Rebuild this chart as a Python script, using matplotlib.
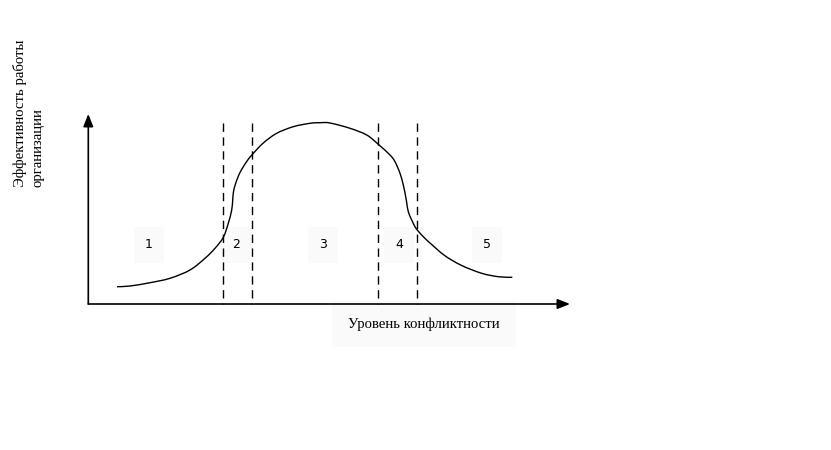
import matplotlib
matplotlib.use("Agg")
import matplotlib.pyplot as plt
import numpy as np
from matplotlib.path import Path
from matplotlib.patches import PathPatch

# curve points (pixel coordinates, y grows downward)
CURVE_X = [117, 130, 150, 170, 190, 205, 215, 223.3, 228.3, 231.7, 232.7, 233.5, 235.7,
           240, 246.7, 252.3, 263.3, 276.7, 293.3, 310, 320, 330, 350, 366.7, 378.3,
           390, 395, 400, 403.3, 405.7, 406.8, 408.3, 411.7, 416, 423.3, 431.7, 445,
           461.7, 481.7, 498.3, 512.3]
CURVE_Y = [286.7, 286, 282.7, 278.3, 270, 258.3, 248.3, 237.3, 223.3, 210, 200, 191.7,
           183.3, 172.5, 161.5, 154.5, 143, 133.3, 126.7, 123.3, 122.7, 123, 128.3, 135,
           144.3, 155, 161.7, 173.3, 185, 196.7, 203.3, 211.7, 220, 228.3, 236.7, 244.5,
           255.8, 265.5, 273.3, 276.7, 277.3]

ZONE_BOUNDS = [223.3, 252.3, 378.3, 416.7]
ZONE_LABELS = ["1", "2", "3", "4", "5"]
ZONE_LABEL_X = [149, 236, 323, 399, 487]

X_LABEL = "Уровень конфликтности"
Y_LABEL = ["Эффективность работы", "организации"]

ORIGIN = (88.3, 304)
X_END = 570
Y_END = 114


def smooth_path(xs, ys):
    # Catmull-Rom through the read points, drawn as cubic Bezier segments
    p = np.column_stack([xs, ys])
    verts = [p[0]]
    codes = [Path.MOVETO]
    n = len(p)
    for i in range(n - 1):
        p0 = p[max(i - 1, 0)]
        p1, p2 = p[i], p[i + 1]
        p3 = p[min(i + 2, n - 1)]
        verts += [p1 + (p2 - p0) / 6, p2 - (p3 - p1) / 6, p2]
        codes += [Path.CURVE4] * 3
    return Path(verts, codes)


fig = plt.figure(figsize=(8.31, 4.5), dpi=100)
ax = fig.add_axes([0, 0, 1, 1])
ax.set_xlim(0, 831)
ax.set_ylim(450, 0)
ax.axis("off")

# faint backgrounds behind labels
box = dict(facecolor="#fafafa", edgecolor="none", pad=8)
for lbl, xl in zip(ZONE_LABELS, ZONE_LABEL_X):
    ax.text(xl, 245, lbl, ha="center", va="center", fontsize=9,
            family="DejaVu Sans", bbox=box, zorder=1)

ax.text(424, 324, X_LABEL, ha="center", va="center", fontsize=10.6,
        family="Liberation Serif",
        bbox=dict(facecolor="#fafafa", edgecolor="none", pad=12), zorder=1)
ax.text(20, 187, Y_LABEL[0], rotation=90, rotation_mode="anchor", ha="left",
        va="center", fontsize=10.6, family="Liberation Serif")
ax.text(38, 187, Y_LABEL[1], rotation=90, rotation_mode="anchor", ha="left",
        va="center", fontsize=10.6, family="Liberation Serif")

# axes with arrows
arrow = dict(arrowstyle="-|>,head_length=0.75,head_width=0.3", color="black", lw=1.2,
             shrinkA=0, shrinkB=0)
ax.annotate("", xy=(X_END, ORIGIN[1]), xytext=ORIGIN, arrowprops=arrow, zorder=3)
ax.annotate("", xy=(ORIGIN[0], Y_END), xytext=ORIGIN, arrowprops=arrow, zorder=3)

# zone boundaries
for xb in ZONE_BOUNDS:
    ax.plot([xb, xb], [122.7, ORIGIN[1]], color="black", lw=1,
            linestyle=(0, (6, 4)), zorder=3)

ax.add_patch(PathPatch(smooth_path(CURVE_X, CURVE_Y), facecolor="none",
                       edgecolor="black", lw=1, zorder=3))

fig.savefig("out.png", dpi=100, facecolor="white")
